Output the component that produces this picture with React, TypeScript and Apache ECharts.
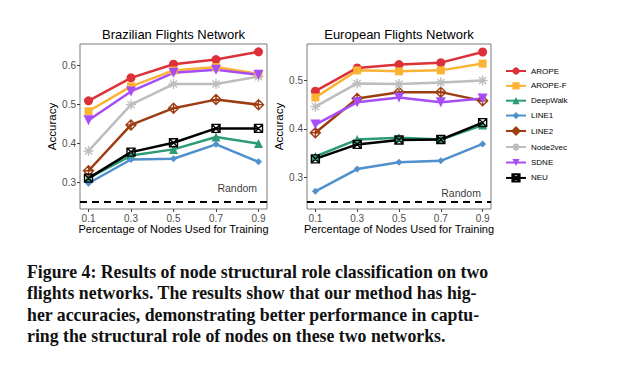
import React, { useEffect, useRef } from 'react';
import * as echarts from 'echarts';

const xValues = [0.1, 0.3, 0.5, 0.7, 0.9];
const xTicks = [0.1, 0.3, 0.5, 0.7, 0.9];
const brazilYTicks = [0.3, 0.4, 0.5, 0.6];
const europeYTicks = [0.3, 0.4, 0.5];
const methods = ['AROPE', 'AROPE-F', 'DeepWalk', 'LINE1', 'LINE2', 'Node2vec', 'SDNE', 'NEU'];
const randomLevel = 0.25;

// Brazilian Flights Network
const brAROPE = [0.509, 0.568, 0.603, 0.615, 0.635];
const brAROPEF = [0.482, 0.546, 0.587, 0.596, 0.578];
const brDeepWalk = [0.31, 0.368, 0.384, 0.416, 0.399];
const brLINE1 = [0.297, 0.358, 0.36, 0.397, 0.352];
const brLINE2 = [0.329, 0.447, 0.49, 0.512, 0.499];
const brNode2vec = [0.38, 0.499, 0.552, 0.552, 0.571];
const brSDNE = [0.459, 0.533, 0.581, 0.589, 0.576];
const brNEU = [0.31, 0.377, 0.401, 0.438, 0.438];

// European Flights Network
const euAROPE = [0.478, 0.526, 0.533, 0.537, 0.559];
const euAROPEF = [0.465, 0.521, 0.519, 0.521, 0.535];
const euDeepWalk = [0.343, 0.378, 0.382, 0.378, 0.408];
const euLINE1 = [0.271, 0.317, 0.331, 0.334, 0.369];
const euLINE2 = [0.392, 0.463, 0.476, 0.476, 0.458];
const euNode2vec = [0.446, 0.494, 0.493, 0.496, 0.5];
const euSDNE = [0.409, 0.455, 0.465, 0.455, 0.463];
const euNEU = [0.338, 0.368, 0.377, 0.378, 0.413];

const captionLines = [
  'Figure 4: Results of node structural role classification on two',
  'flights networks. The results show that our method has hig-',
  'her accuracies, demonstrating better performance in captu-',
  'ring the structural role of nodes on these two networks.',
];

const brazilData = [brAROPE, brAROPEF, brDeepWalk, brLINE1, brLINE2, brNode2vec, brSDNE, brNEU];
const europeData = [euAROPE, euAROPEF, euDeepWalk, euLINE1, euLINE2, euNode2vec, euSDNE, euNEU];

const ASTERISK = 'path://M0,-1L0,1M-1,0L1,0M-0.7071,-0.7071L0.7071,0.7071M-0.7071,0.7071L0.7071,-0.7071';
const DIAMOND_PLUS = 'path://M0,-1L1,0L0,1L-1,0ZM0,-1L0,1M-1,0L1,0';
const SQUARE_X = 'path://M-1,-1L1,-1L1,1L-1,1ZM-1,-1L1,1M-1,1L1,-1';

const styles: any[] = [
  { color: '#dc3138', symbol: 'circle', size: 9, open: false },
  { color: '#fcb333', symbol: 'rect', size: 8, open: false },
  { color: '#2b9b74', symbol: 'triangle', size: 9, open: false },
  { color: '#5090cc', symbol: 'diamond', size: 7, open: false },
  { color: '#9c3e12', symbol: DIAMOND_PLUS, size: 10, open: true },
  { color: '#bdbdbd', symbol: ASTERISK, size: 10, open: true },
  { color: '#a64df5', symbol: 'triangle', size: 10, open: false, rotate: 180 },
  { color: '#000000', symbol: SQUARE_X, size: 8, open: true },
];

const SANS = '"Liberation Sans", Arial, Helvetica, sans-serif';

function makeSeries(idx: number, data: number[][]) {
  return methods.map((name, k) => {
    const s = styles[k];
    return {
      type: 'line',
      name,
      xAxisIndex: idx,
      yAxisIndex: idx,
      data: xValues.map((x, i) => [x, data[k][i]]),
      symbol: s.symbol,
      symbolSize: s.size,
      symbolRotate: s.rotate || 0,
      symbolKeepAspect: true,
      showAllSymbol: true,
      lineStyle: { color: s.color, width: 2.5 },
      itemStyle: s.open
        ? { color: 'rgba(255,255,255,0)', borderColor: s.color, borderWidth: 1.4 }
        : { color: s.color, borderWidth: 0 },
      emphasis: { disabled: true },
      silent: true,
      z: 2,
    };
  });
}

function randomSeries(idx: number, x: number, y: number) {
  return {
    type: 'scatter',
    name: 'Random',
    xAxisIndex: idx,
    yAxisIndex: idx,
    data: [[x, y]],
    symbolSize: 0,
    silent: true,
    label: {
      show: true,
      position: 'inside',
      formatter: 'Random',
      color: '#000',
      fontSize: 10.5,
      fontFamily: SANS,
    },
    markLine: {
      silent: true,
      symbol: ['none', 'none'],
      label: { show: false },
      lineStyle: { color: '#000', type: [7, 5], width: 2 },
      data: [{ yAxis: randomLevel }],
    },
    z: 1,
  };
}

function xAxisCfg(idx: number) {
  return {
    type: 'value',
    gridIndex: idx,
    min: 0.06,
    max: 0.94,
    name: 'Percentage of Nodes Used for Training',
    nameLocation: 'middle',
    nameGap: 11,
    nameTextStyle: { fontSize: 11, color: '#000', fontFamily: SANS },
    axisLine: { show: false },
    splitLine: { show: false },
    axisTick: { show: true, length: 3, lineStyle: { color: '#444' }, customValues: xTicks },
    axisLabel: { fontSize: 10, color: '#4d4d4d', margin: 4, fontFamily: SANS, customValues: xTicks },
  };
}

function yAxisCfg(idx: number, min: number, max: number, ticks: number[]) {
  return {
    type: 'value',
    gridIndex: idx,
    min,
    max,
    name: 'Accuracy',
    nameLocation: 'middle',
    nameGap: 21,
    nameTextStyle: { fontSize: 11.5, color: '#000', fontFamily: SANS },
    axisLine: { show: false },
    splitLine: { show: false },
    axisTick: { show: true, length: 3, lineStyle: { color: '#444' }, customValues: ticks },
    axisLabel: { fontSize: 10, color: '#4d4d4d', margin: 4, fontFamily: SANS, customValues: ticks },
  };
}

export default function App() {
  const ref = useRef<HTMLDivElement>(null);
  useEffect(() => {
    if (!ref.current) return;
    const chart = echarts.init(ref.current, undefined, { renderer: 'svg' });
    const option: any = {
      animation: false,
      backgroundColor: '#ffffff',
      grid: [
        { left: 80, top: 44, width: 187, height: 165, show: true, borderColor: '#7a7a7a', borderWidth: 1, backgroundColor: 'transparent' },
        { left: 307, top: 44, width: 184, height: 165, show: true, borderColor: '#7a7a7a', borderWidth: 1, backgroundColor: 'transparent' },
      ],
      xAxis: [xAxisCfg(0), xAxisCfg(1)],
      yAxis: [
        yAxisCfg(0, 0.2307, 0.655, brazilYTicks),
        yAxisCfg(1, 0.2345, 0.5755, europeYTicks),
      ],
      legend: {
        data: methods,
        orient: 'vertical',
        left: 505,
        top: 67,
        padding: 0,
        itemWidth: 20,
        itemHeight: 9,
        itemGap: 6.85,
        selectedMode: false,
        textStyle: { fontSize: 8, color: '#000', fontFamily: SANS },
      },
      graphic: [
        {
          type: 'text',
          x: 173.5,
          y: 34,
          style: { text: 'Brazilian Flights Network', textAlign: 'center', textVerticalAlign: 'middle', fontSize: 13, fontFamily: SANS, fill: '#000' },
        },
        {
          type: 'text',
          x: 399,
          y: 34,
          style: { text: 'European Flights Network', textAlign: 'center', textVerticalAlign: 'middle', fontSize: 13, fontFamily: SANS, fill: '#000' },
        },
        {
          type: 'text',
          x: 27,
          y: 261,
          style: {
            text: captionLines.join('\n'),
            fontSize: 17.8,
            fontWeight: 'bold',
            fontFamily: '"Liberation Serif", "DejaVu Serif", serif',
            lineHeight: 21.5,
            fill: '#111',
          },
        },
      ],
      series: [
        ...makeSeries(0, brazilData),
        ...makeSeries(1, europeData),
        randomSeries(0, 0.8, 0.285),
        randomSeries(1, 0.797, 0.2676),
      ],
    };
    chart.setOption(option);
    return () => chart.dispose();
  }, []);
  return <div ref={ref} style={{ position: 'absolute', left: 0, top: 0, width: 617, height: 373 }} />;
}
